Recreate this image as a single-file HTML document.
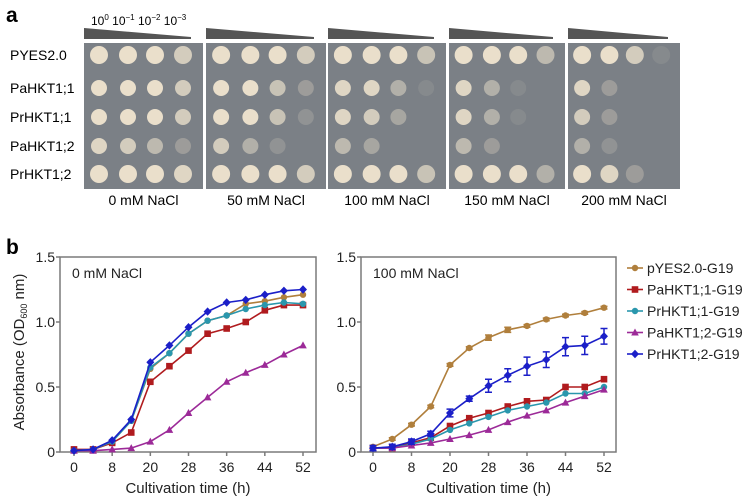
<!DOCTYPE html>
<html><head><meta charset="utf-8"><style>
body{margin:0;background:#fff;}
svg{display:block;font-family:"Liberation Sans",sans-serif;}
</style></head><body>
<svg id="fig" width="746" height="498" viewBox="0 0 746 498">
<text x="6" y="22" font-size="21" font-weight="bold">a</text>
<text x="6" y="254" font-size="21" font-weight="bold">b</text>
<g id="pa">
<text x="91" y="25" font-size="12">10<tspan dy="-5" font-size="8">0</tspan><tspan dy="5"> 10</tspan><tspan dy="-5" font-size="8">−1</tspan><tspan dy="5"> 10</tspan><tspan dy="-5" font-size="8">−2</tspan><tspan dy="5"> 10</tspan><tspan dy="-5" font-size="8">−3</tspan></text>
</g>
<g id="pb"></g>
</svg>
<script>
const NS='http://www.w3.org/2000/svg';
function mk(tag,attrs,parent,txt){const e=document.createElementNS(NS,tag);for(const k in attrs)e.setAttribute(k,attrs[k]);if(txt!==undefined)e.textContent=txt;parent.appendChild(e);return e;}
// ---- panel a ----
const strains=['PYES2.0','PaHKT1;1','PrHKT1;1','PaHKT1;2','PrHKT1;2'];
const conditions=['0 mM NaCl','50 mM NaCl','100 mM NaCl','150 mM NaCl','200 mM NaCl'];
const growth=[
[[1,1,1,.8],[1,1,1,.8],[1,1,1,.8],[.9,.8,.6,.3],[1,1,1,.9]],
[[1,1,1,.8],[1,1,.7,.3],[1,1,.7,.2],[.8,.5,.2,0],[1,1,1,.8]],
[[1,1,1,.7],[.9,.9,.5,.1],[.9,.8,.4,0],[.6,.4,0,0],[1,1,1,.7]],
[[1,1,1,.6],[.9,.5,.1,0],[.9,.5,.1,0],[.6,.3,0,0],[1,1,1,.5]],
[[1,1,.8,.1],[.9,.3,0,0],[.8,.3,0,0],[.5,.2,0,0],[1,.9,.3,0]]];
const plateX=[84,206,328,449,568];
const plateW=[119,120,118,116,112];
const rowY=[55,88,117,146,174];
const colOff=[15,44,71,99];
const pa=document.getElementById('pa');
strains.forEach((s,i)=>{const t=mk('text',{x:10,y:rowY[i]+5,'font-size':14},pa,s);
});
conditions.forEach((c,p)=>{
 const x=plateX[p],w=plateW[p];
 const w1=mk('polygon',{points:`${x},28 ${x},39 ${x+w-12},39 ${x+w-12},37`,fill:'#555'},pa);
 
 const r=mk('rect',{x:x,y:43,width:w,height:146,fill:'#7b8086'},pa);
 
 growth[p].forEach((row,ri)=>row.forEach((g,ci)=>{
  if(g<=0)return;
  const c=mk('circle',{cx:x+colOff[ci]*(w/119),cy:rowY[ri],r:ri==0||ri==4?9:8,fill:'#eadfcb','fill-opacity':g},pa);
  
 }));
 const t=mk('text',{x:x+w/2,y:205,'font-size':14,'text-anchor':'middle'},pa,c);
 
});
// ---- panel b ----
const times=[0,4,8,12,20,24,28,32,36,40,44,48,52];
const tickLabels=['0','8','20','28','36','44','52'];
const tickIdx=[0,2,4,6,8,10,12];
const yTicks=[0,0.5,1.0,1.5];
const yTickLabels=['0','0.5','1.0','1.5'];
const seriesNames=['pYES2.0-G19','PaHKT1;1-G19','PrHKT1;1-G19','PaHKT1;2-G19','PrHKT1;2-G19'];
const colors=['#b07f3c','#b01b1e','#2a97ad','#9c2a98','#1b1fc8'];
const markers=['circle','square','circle','triangle','diamond'];
const gold0=[0.01,0.02,0.08,0.24,0.64,0.76,0.91,1.01,1.05,1.14,1.16,1.19,1.21];
const red0=[0.02,0.02,0.07,0.15,0.54,0.66,0.78,0.91,0.95,1.00,1.09,1.13,1.13];
const cyan0=[0.01,0.02,0.08,0.24,0.65,0.76,0.91,1.01,1.05,1.10,1.13,1.15,1.14];
const purple0=[0.01,0.01,0.02,0.03,0.08,0.17,0.30,0.42,0.54,0.61,0.67,0.75,0.82];
const blue0=[0.01,0.02,0.09,0.25,0.69,0.82,0.96,1.08,1.15,1.17,1.21,1.24,1.25];
const gold100=[0.04,0.10,0.21,0.35,0.67,0.80,0.88,0.94,0.97,1.02,1.05,1.07,1.11];
const red100=[0.03,0.03,0.07,0.11,0.20,0.26,0.30,0.35,0.39,0.40,0.50,0.50,0.56];
const cyan100=[0.03,0.03,0.06,0.10,0.17,0.22,0.27,0.32,0.35,0.38,0.45,0.45,0.50];
const purple100=[0.03,0.03,0.05,0.07,0.10,0.13,0.17,0.23,0.28,0.32,0.38,0.43,0.48];
const blue100=[0.03,0.04,0.08,0.14,0.30,0.41,0.51,0.59,0.66,0.71,0.81,0.82,0.89];
const blueErr100=[0.02,0.02,0.02,0.02,0.03,0.02,0.05,0.05,0.07,0.06,0.07,0.07,0.06];
const gold100Err=[0.01,0.01,0.01,0.01,0.01,0.01,0.02,0.02,0.01,0.01,0.01,0.01,0.01];
const pb=document.getElementById('pb');
function chart(cfg){
 const g=mk('g',{},pb);
 const X=i=>cfg.x0+i*(cfg.x1-cfg.x0)/(times.length-1);
 const Y=v=>cfg.yb-v*(cfg.yb-cfg.yt)/1.5;
 const fr=mk('rect',{x:cfg.left,y:cfg.yt,width:cfg.right-cfg.left,height:cfg.yb-cfg.yt,fill:'none',stroke:'#7a7a7a','stroke-width':1.5},g);
 
 yTicks.forEach((v,i)=>{mk('line',{x1:cfg.left-4,x2:cfg.left,y1:Y(v),y2:Y(v),stroke:'#7a7a7a','stroke-width':1.5},g);
  const t=mk('text',{x:cfg.left-5,y:Y(v)+5,'font-size':14,'text-anchor':'end',fill:'#222'},g,yTickLabels[i]);
  });
 tickIdx.forEach((ix,i)=>{mk('line',{x1:X(ix),x2:X(ix),y1:cfg.yb,y2:cfg.yb+4,stroke:'#7a7a7a','stroke-width':1.5},g);
  const t=mk('text',{x:X(ix),y:cfg.yb+20,'font-size':14,'text-anchor':'middle',fill:'#222'},g,tickLabels[i]);
  });
 const xt=mk('text',{x:(cfg.left+cfg.right)/2,y:cfg.yb+41,'font-size':15,'text-anchor':'middle',fill:'#222'},g,'Cultivation time (h)');
 
 const ct=mk('text',{x:cfg.left+12,y:cfg.yt+21,'font-size':14,fill:'#222'},g,cfg.title);
 
 cfg.series.forEach((vals,s)=>{
  const err=cfg.errs[s];
  if(err) vals.forEach((v,i)=>{const x=X(i);
   mk('path',{d:`M${x},${Y(v-err[i])}V${Y(v+err[i])}M${x-3.5},${Y(v-err[i])}h7M${x-3.5},${Y(v+err[i])}h7`,stroke:colors[s],'stroke-width':1.5,fill:'none'},g);});
  const pl=mk('polyline',{points:vals.map((v,i)=>X(i)+','+Y(v)).join(' '),fill:'none',stroke:colors[s],'stroke-width':1.6},g);
  
  vals.forEach((v,i)=>{const m=marker(g,markers[s],X(i),Y(v),colors[s]);
   });
 });
}
function marker(g,type,x,y,c){
 if(type=='circle')return mk('circle',{cx:x,cy:y,r:3.2,fill:c},g);
 if(type=='square')return mk('rect',{x:x-3.3,y:y-3.3,width:6.6,height:6.6,fill:c},g);
 if(type=='triangle')return mk('polygon',{points:`${x},${y-4} ${x-3.8},${y+3} ${x+3.8},${y+3}`,fill:c},g);
 return mk('polygon',{points:`${x},${y-4.2} ${x+4},${y} ${x},${y+4.2} ${x-4},${y}`,fill:c},g);
}
chart({name:'chart-0mm',left:60,right:316,x0:74,x1:303,yt:257,yb:452,title:'0 mM NaCl',
 series:[gold0,red0,cyan0,purple0,blue0],errs:[null,null,null,null,null]});
chart({name:'chart-100mm',left:361,right:616,x0:373,x1:604,yt:257,yb:452,title:'100 mM NaCl',
 series:[gold100,red100,cyan100,purple100,blue100],errs:[gold100Err,null,null,null,blueErr100]});
const yl=mk('text',{transform:'translate(24,352) rotate(-90)','font-size':15,'text-anchor':'middle',fill:'#222'},pb);

yl.innerHTML='Absorbance (OD<tspan font-size="9" dy="3">600</tspan><tspan dy="-3"> nm)</tspan>';
seriesNames.forEach((n,s)=>{const y=268+s*21.5;
 const lg=mk('g',{},pb);
 mk('line',{x1:627,x2:643,y1:y,y2:y,stroke:colors[s],'stroke-width':1.6},lg);
 marker(lg,markers[s],635,y,colors[s]);
 mk('text',{x:647,y:y+5,'font-size':14,fill:'#222'},lg,n);});
</script>
</body></html>
